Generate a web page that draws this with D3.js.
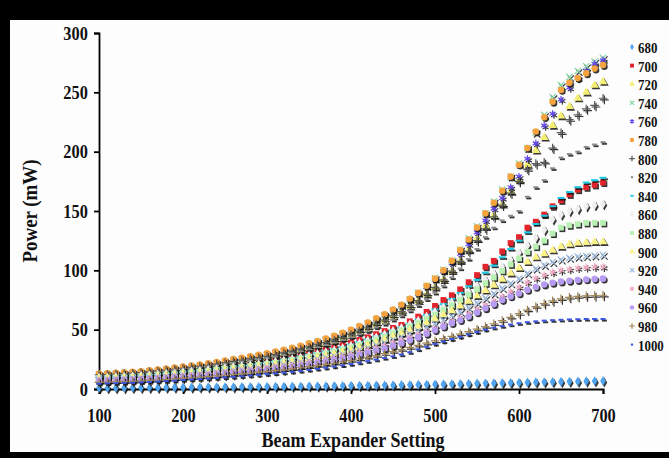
<!DOCTYPE html>
<html>
<head>
<meta charset="utf-8">
<script src="https://cdn.jsdelivr.net/npm/d3@7"></script>
<style>
body { margin: 0; background: #000; }
svg  { display: block; }
text { font-family: "Liberation Serif", "Times New Roman", serif; font-weight: bold; fill: #111; }
</style>
</head>
<body>
<svg id="chart" width="669" height="458"></svg>
<script>
"use strict"

// beam expander settings (x), one reading every 10
var xValues = [
    100, 110, 120, 130, 140, 150, 160, 170, 180, 190,
    200, 210, 220, 230, 240, 250, 260, 270, 280, 290,
    300, 310, 320, 330, 340, 350, 360, 370, 380, 390,
    400, 410, 420, 430, 440, 450, 460, 470, 480, 490,
    500, 510, 520, 530, 540, 550, 560, 570, 580, 590,
    600, 610, 620, 630, 640, 650, 660, 670, 680, 690,
    700];

var seriesLabels = ["680", "700", "720", "740", "760", "780", "800", "820",
    "840", "860", "880", "900", "920", "940", "960", "980", "1000"];

// power (mW) per wavelength
var p680 = [
    0.8, 0.85, 0.9, 0.95, 1, 1.05, 1.1, 1.15, 1.2, 1.25,
    1.3, 1.35, 1.4, 1.45, 1.5, 1.55, 1.6, 1.7, 1.75, 1.8,
    1.9, 1.95, 2, 2.1, 2.2, 2.3, 2.35, 2.4, 2.5, 2.6,
    2.7, 2.8, 2.9, 3, 3.1, 3.2, 3.35, 3.5, 3.6, 3.75,
    3.9, 4, 4.15, 4.3, 4.45, 4.6, 4.75, 4.9, 5.05, 5.2,
    5.35, 5.5, 5.65, 5.8, 5.95, 6.1, 6.25, 6.4, 6.55, 6.7,
    6.8];
var p700 = [
    10.1, 10.4, 10.7, 10.9, 11.3, 11.7, 12.2, 12.8, 13.4, 14,
    14.8, 15.4, 16.1, 16.9, 17.8, 18.7, 19.7, 20.6, 21.5, 22.5,
    23.4, 24.6, 25.7, 27.1, 28.5, 30, 31.6, 33.2, 34.9, 36.9,
    39, 41.3, 43.6, 46.2, 48.8, 51.5, 54, 57, 61, 65,
    70, 75, 79, 84, 90, 96, 103, 108, 116, 123,
    128, 136, 141, 147, 154, 159, 164, 168, 170, 172,
    174];
var p720 = [
    11.5, 11.8, 12.2, 12.5, 13, 13.5, 14.1, 14.7, 15.4, 16.1,
    17, 17.7, 18.5, 19.4, 20.4, 21.5, 22.6, 23.7, 24.8, 25.9,
    27, 28.4, 29.8, 31.3, 33, 34.8, 36.7, 38.6, 40.7, 43,
    45.5, 48.3, 51, 54.3, 57.6, 61.3, 65, 69.6, 74.3, 79.8,
    85.5, 92, 99.5, 108, 117, 126.5, 137.5, 146, 155.5, 166.5,
    176, 189, 201, 212, 222, 230, 238, 245, 250, 256,
    259];
var p740 = [
    12, 12.3, 12.7, 13, 13.5, 14, 14.6, 15.3, 16, 16.8,
    17.7, 18.5, 19.4, 20.4, 21.5, 22.6, 23.8, 25, 26.2, 27.5,
    28.8, 30.3, 31.9, 33.6, 35.4, 37.4, 39.5, 41.6, 44, 46.5,
    49.2, 52, 55, 58.5, 62, 66, 70.5, 75.5, 81, 87,
    93.5, 100.5, 108.5, 117.5, 127, 137, 148, 158, 168, 179,
    190, 203, 216, 231, 246, 256, 263, 268, 272, 276,
    279];
var p760 = [
    12.5, 12.8, 13.2, 13.5, 14, 14.5, 15.2, 15.9, 16.7, 17.5,
    18.4, 19.2, 20.1, 21.1, 22.2, 23.4, 24.6, 25.8, 27, 28.2,
    29.4, 30.9, 32.4, 34.1, 35.9, 37.9, 39.9, 41.9, 44.2, 46.7,
    49.4, 52.4, 55.4, 58.9, 62.4, 66.4, 70.5, 75.5, 80.5, 86,
    92, 99, 106, 114, 122, 132, 142, 152, 161, 170,
    179, 194, 207, 222, 232, 244, 254, 262, 268, 274,
    277];
var p780 = [
    13, 13.3, 13.7, 14, 14.5, 15, 15.7, 16.4, 17.2, 18,
    19, 19.8, 20.7, 21.7, 22.8, 24, 25.2, 26.4, 27.6, 28.8,
    30, 31.5, 33, 34.7, 36.5, 38.5, 40.5, 42.5, 44.8, 47.3,
    50, 53, 56, 59.5, 63, 67, 71, 76, 81, 87,
    93, 100, 108, 117, 126, 136, 148, 157, 167, 179,
    189, 203, 217, 229, 242, 252, 258, 262, 266, 270,
    273];
var p800 = [
    12, 12.2, 12.6, 12.9, 13.3, 13.8, 14.4, 15.1, 15.8, 16.6,
    17.5, 18.2, 19, 20, 21, 22.1, 23.2, 24.3, 25.4, 26.5,
    27.6, 29, 30.4, 31.9, 33.6, 35.4, 37.3, 39.1, 41.2, 43.5,
    46, 48.8, 51.5, 54.7, 58, 61.6, 65.3, 70, 74.5, 80,
    85.6, 92, 99.4, 107.6, 116, 125, 135, 145, 155, 165,
    175, 185, 190, 191, 203, 216, 227, 231, 236, 239,
    245];
var p820 = [
    11.3, 11.6, 11.9, 12.2, 12.6, 13, 13.7, 14.3, 15, 15.7,
    16.5, 17.2, 18, 18.9, 19.8, 20.9, 21.9, 23, 24, 25.1,
    26.1, 27.4, 28.7, 30.2, 31.8, 33.5, 35.2, 37, 39, 41.2,
    43.5, 46.1, 48.7, 51.8, 54.8, 58.3, 61.8, 66, 70.5, 75.5,
    81, 87, 94, 101.5, 109.5, 118, 128, 136, 142, 146,
    150, 162, 170, 176, 186, 195, 198, 200, 204, 206,
    208];
var p840 = [
    9.6, 9.9, 10.2, 10.5, 10.9, 11.3, 11.8, 12.3, 12.9, 13.5,
    14.2, 14.8, 15.5, 16.3, 17.1, 18, 18.9, 19.8, 20.7, 21.6,
    22.5, 23.6, 24.8, 26, 27.4, 28.9, 30.4, 31.9, 33.6, 35.5,
    37.5, 39.7, 41.9, 44.4, 46.9, 49.5, 52, 55, 58.5, 62.5,
    67, 71.5, 76, 81, 86.5, 92, 98, 104, 111, 118,
    125, 132, 139, 146, 154, 161, 166, 170, 174, 176,
    178];
var p860 = [
    9.5, 9.7, 10, 10.2, 10.6, 11, 11.5, 12, 12.6, 13.1,
    13.9, 14.5, 15.1, 15.8, 16.6, 17.5, 18.4, 19.3, 20.1, 21,
    21.9, 23, 24.1, 25.3, 26.6, 28.1, 29.6, 31, 32.7, 34.5,
    36.5, 38.7, 40.9, 43.4, 46, 48.9, 51.5, 54.5, 57.5, 61,
    65, 69, 73, 77.5, 82, 87, 92, 97.5, 103, 109,
    115, 121, 127.5, 134, 143, 147, 150, 152, 154, 155,
    156];
var p880 = [
    9.1, 9.3, 9.6, 9.8, 10.2, 10.5, 11, 11.5, 12, 12.6,
    13.3, 13.9, 14.5, 15.2, 16, 16.8, 17.6, 18.5, 19.3, 20.2,
    21, 22, 23.1, 24.3, 25.5, 27, 28.4, 29.8, 31.4, 33.1,
    35, 37.1, 39.2, 41.6, 44.1, 46.9, 49.5, 52.5, 55.5, 59,
    62.5, 66.5, 70.5, 75, 79.5, 84, 89, 94, 99.5, 105,
    110, 115.5, 120, 125, 131, 136, 138, 139, 140, 140,
    140];
var p900 = [
    8.6, 8.8, 9, 9.2, 9.6, 9.9, 10.4, 10.8, 11.4, 11.9,
    12.5, 13.1, 13.7, 14.3, 15, 15.8, 16.6, 17.4, 18.2, 19,
    19.8, 20.8, 21.8, 22.9, 24.1, 25.4, 26.7, 28.1, 29.6, 31.2,
    33, 35, 37, 39.3, 41.6, 44.2, 46.8, 49.5, 52.5, 55.5,
    59, 62.5, 66, 70, 74, 78.5, 83, 87.5, 92.5, 97.5,
    102, 107, 111, 114, 117, 120, 122, 123, 123.5, 124,
    124];
var p920 = [
    8.1, 8.2, 8.5, 8.7, 9, 9.3, 9.7, 10.2, 10.7, 11.2,
    11.8, 12.3, 12.8, 13.5, 14.1, 14.9, 15.6, 16.4, 17.1, 17.9,
    18.6, 19.5, 20.5, 21.5, 22.6, 23.9, 25.1, 26.4, 27.8, 29.3,
    31, 32.9, 34.7, 36.9, 39, 41.5, 44, 46.5, 49, 52,
    55, 58, 61.5, 65, 68.5, 72.5, 76.5, 80.5, 85, 89,
    93, 97.5, 101.5, 104.5, 107, 109, 110.5, 111.5, 112, 112.5,
    113];
var p940 = [
    7.5, 7.7, 7.9, 8.1, 8.4, 8.7, 9.1, 9.5, 10, 10.4,
    11, 11.5, 12, 12.6, 13.2, 13.9, 14.6, 15.3, 16, 16.7,
    17.4, 18.3, 19.1, 20.1, 21.2, 22.3, 23.5, 24.7, 26, 27.4,
    29, 30.7, 32.5, 34.5, 36.5, 38.9, 41, 43.5, 46, 48.5,
    51, 54, 57, 60, 63.5, 67, 70.5, 74, 78, 82,
    86, 90, 93.5, 96, 98.5, 100, 101, 102, 102.5, 103,
    103];
var p960 = [
    7, 7.2, 7.4, 7.6, 7.8, 8.1, 8.5, 8.9, 9.3, 9.7,
    10.3, 10.7, 11.2, 11.7, 12.3, 13, 13.6, 14.3, 14.9, 15.6,
    16.2, 17, 17.8, 18.7, 19.7, 20.8, 21.9, 23, 24.2, 25.5,
    27, 28.6, 30.2, 32.1, 34, 36.2, 38.5, 41, 43.5, 46.5,
    49.5, 52.5, 55.5, 58, 61, 64.5, 68, 71.5, 75, 78,
    80.5, 83.5, 86, 88, 89.5, 90.5, 91.2, 91.8, 92.3, 92.7,
    93];
var p980 = [
    5.6, 5.8, 6, 6.2, 6.5, 6.8, 7.2, 7.6, 8, 8.5,
    9.1, 9.5, 10, 10.5, 11, 11.6, 12.2, 12.8, 13.5, 14.2,
    14.8, 15.5, 16.2, 17, 17.9, 18.8, 19.7, 20.7, 21.7, 22.8,
    24, 25.3, 26.7, 28.2, 29.8, 31.5, 33.2, 35, 36.8, 38.6,
    40.5, 42.4, 44.3, 46.3, 48.3, 50.4, 52.6, 55, 57.6, 60.4,
    63.5, 66.5, 69.5, 72, 74.3, 76, 77.2, 78, 78.5, 78.8,
    79];
var p1000 = [
    4.5, 4.7, 4.9, 5.1, 5.3, 5.6, 5.9, 6.2, 6.6, 7,
    7.5, 7.9, 8.3, 8.7, 9.2, 9.7, 10.2, 10.7, 11.3, 11.9,
    12.5, 13.1, 13.8, 14.5, 15.3, 16.1, 17, 17.9, 18.9, 19.9,
    21, 22.2, 23.4, 24.7, 26.1, 27.5, 29, 31, 33.3, 35.6,
    38, 40, 42, 44, 46, 48, 50, 51.6, 53, 54.3,
    55.4, 56.3, 57, 57.6, 58, 58.3, 58.6, 58.8, 59, 59,
    59];

var seriesValues = [p680, p700, p720, p740, p760, p780, p800, p820,
    p840, p860, p880, p900, p920, p940, p960, p980, p1000];

var xTicks = [100, 200, 300, 400, 500, 600, 700];
var yTicks = [0, 50, 100, 150, 200, 250, 300];

// marker look, one per series
var markerColors = ["#4ea4f0", "#e3232b", "#f4ee72", "#86d6a6", "#6448ee",
    "#f5a33e", "#5a5a5a", "#8a8a8a", "#1ccbe9", "#efefef", "#b9f1b4",
    "#fbf28a", "#9dbde2", "#f3a9c6", "#b79cf2", "#a38556", "#3a55e2"];
var markerShapes = ["diamond", "square", "triangle", "x", "star", "circle",
    "plus", "dash", "longdash", "diamond", "square", "triangle", "x", "star",
    "circle", "plus", "dash"];

var W = 669, H = 458;
var squeeze = 'scale(0.86,1)';
var svg = d3.select('#chart');

svg.append('rect')
    .attr('x', 10).attr('y', 20)
    .attr('width', W - 10).attr('height', 432)
    .attr('fill', '#fdfdfd');

var x = d3.scaleLinear().domain([100, 700]).range([99, 603]);
var y = d3.scaleLinear().domain([0, 300]).range([389, 33]);

function markerPath(shape, scale) {
    scale = scale || 1;
    switch (shape) {
        case 'diamond':  return d3.symbol(d3.symbolDiamond, 28 * scale)();
        case 'square':   return d3.symbol(d3.symbolSquare, 34 * scale)();
        case 'triangle': return d3.symbol(d3.symbolTriangle, 32 * scale)();
        case 'circle':   return d3.symbol(d3.symbolCircle, 34 * scale)();
        case 'x':        return d3.symbol(d3.symbolX, 28 * scale)();
        case 'star':     return d3.symbol(d3.symbolAsterisk, 34 * scale)();
        case 'plus':     return d3.symbol(d3.symbolPlus, 26 * scale)();
        case 'dash':     return 'M' + (-2.5 * scale) + ',0H' + (2.5 * scale);
        case 'longdash': return 'M' + (-3.5 * scale) + ',0H' + (3.5 * scale);
    }
    return null;
}

function isStroked(shape) {
    return ['x', 'star', 'plus', 'dash', 'longdash'].indexOf(shape) >= 0;
}

function styleMarker(sel, shape, color) {
    if (isStroked(shape))
        sel.attr('fill', 'none')
           .attr('stroke', color)
           .attr('stroke-width', shape == 'dash' || shape == 'longdash' ? 2 : 1.2);
    else
        sel.attr('fill', color).attr('stroke', 'none');
}

// axes
var xAxis = d3.axisBottom(x).tickValues(xTicks)
    .tickSize(5).tickSizeOuter(5).tickPadding(15);
var yAxis = d3.axisLeft(y).tickValues(yTicks)
    .tickSize(5).tickSizeOuter(5).tickPadding(8);

var gx = svg.append('g').attr('transform', 'translate(0,' + y(0) + ')').call(xAxis);
var gy = svg.append('g').attr('transform', 'translate(' + x(100) + ',0)').call(yAxis);
[gx, gy].forEach(function(g) {
    g.selectAll('path, line').attr('stroke', '#000').attr('stroke-width', 1.8);
    g.selectAll('text')
        .attr('font-size', 19)
        .attr('transform', squeeze)
        .attr('fill', '#111');
});

// series, each with its dark drop shadow
var plot = svg.append('g');
seriesValues.forEach(function(values, i) {
    var shape = markerShapes[i];
    var path  = markerPath(shape);
    var g = plot.append('g').attr('class', 'series-' + seriesLabels[i]);
    var pts = xValues.map(function(xv, j) { return [xv, values[j]]; });

    g.selectAll('path.shadow').data(pts).enter()
        .append('path')
        .attr('class', 'shadow')
        .attr('d', path)
        .attr('opacity', 0.85)
        .attr('transform', d => 'translate(' + (x(d[0]) + 1.4) + ',' + (y(d[1]) + 1.6) + ')')
        .call(styleMarker, shape, '#141414');

    g.selectAll('path.mark').data(pts).enter()
        .append('path')
        .attr('class', 'mark')
        .attr('d', path)
        .attr('transform', d => 'translate(' + x(d[0]) + ',' + y(d[1]) + ')')
        .call(styleMarker, shape, markerColors[i]);
});

// legend
var legend = svg.append('g');
seriesLabels.forEach(function(label, i) {
    var ly = 53 + i * 18.6;
    legend.append('path')
        .attr('d', markerPath(markerShapes[i], 0.45))
        .attr('transform', 'translate(632,' + (ly - 6) + ')')
        .call(styleMarker, markerShapes[i], markerColors[i]);
    legend.append('text')
        .attr('transform', 'translate(638,' + ly + ') ' + squeeze)
        .attr('font-size', 15)
        .text(label);
});

// axis titles
svg.append('text')
    .attr('transform', 'translate(353,447) ' + squeeze)
    .attr('text-anchor', 'middle')
    .attr('font-size', 21)
    .text('Beam Expander Setting');

svg.append('text')
    .attr('transform', 'translate(37,211) rotate(-90) ' + squeeze)
    .attr('text-anchor', 'middle')
    .attr('font-size', 22)
    .text('Power (mW)');
</script>
</body>
</html>
